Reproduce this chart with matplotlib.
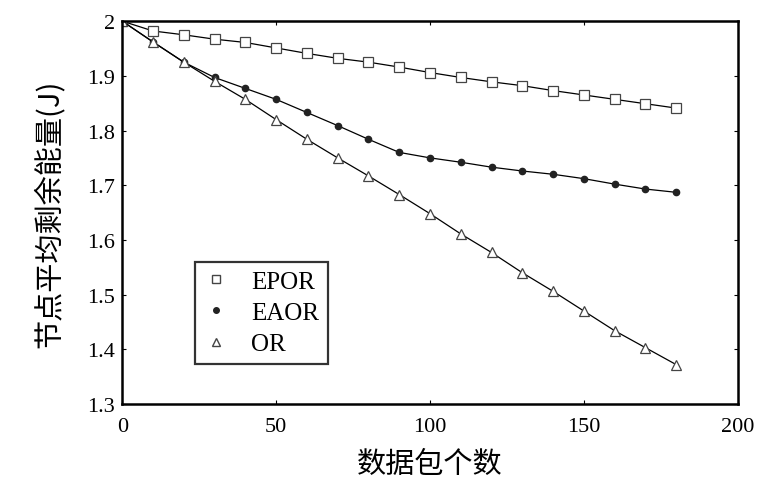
import numpy as np
import matplotlib
matplotlib.use('agg')
import matplotlib.pyplot as plt
from matplotlib.lines import Line2D

plt.rcParams['font.family'] = ['Liberation Serif', 'Noto Sans CJK SC', 'DejaVu Sans']

# ---- data ----
packets = [0, 10, 20, 30, 40, 50, 60, 70, 80, 90, 100, 110, 120, 130, 140, 150, 160, 170, 180]
epor = [2.000, 1.982, 1.975, 1.967, 1.961, 1.951, 1.941, 1.932, 1.925, 1.916, 1.906,
        1.897, 1.889, 1.882, 1.873, 1.865, 1.857, 1.849, 1.841]
eaor = [2.000, 1.962, 1.925, 1.897, 1.877, 1.857, 1.833, 1.809, 1.784, 1.760, 1.750,
        1.742, 1.733, 1.726, 1.720, 1.712, 1.702, 1.693, 1.687]
orr = [2.000, 1.962, 1.925, 1.890, 1.857, 1.820, 1.784, 1.750, 1.717, 1.683, 1.648,
       1.611, 1.577, 1.540, 1.506, 1.470, 1.434, 1.403, 1.372]
labels = ['EPOR', 'EAOR', 'OR']

fig = plt.figure(figsize=(7.59, 4.81), dpi=100)
ax = fig.add_axes([0.161, 0.158, 0.811, 0.796])

ax.plot(packets, epor, color='black', lw=0.9, marker='s', ms=7,
        mfc='white', mec='#444444', mew=0.9)
ax.plot(packets, eaor, color='black', lw=0.9, marker='o', ms=4.5,
        mfc='#222222', mec='#222222')
ax.plot(packets, orr, color='black', lw=0.9, marker='^', ms=7.5,
        mfc='white', mec='#444444', mew=0.9)

ax.set_xlim(0, 200)
ax.set_ylim(1.3, 2.0)
ax.set_xticks([0, 50, 100, 150, 200])
ax.set_yticks([1.3, 1.4, 1.5, 1.6, 1.7, 1.8, 1.9, 2.0])
ax.set_yticklabels(['1.3', '1.4', '1.5', '1.6', '1.7', '1.8', '1.9', '2'])
ax.tick_params(direction='in', length=3, width=0.8, labelsize=16, top=True, right=True)
ax.tick_params(axis='y', pad=5)
ax.tick_params(axis='x', pad=9)
for s in ax.spines.values():
    s.set_linewidth(1.8)

ax.set_xlabel('数据包个数', fontsize=21, family=['Noto Sans CJK SC'], labelpad=10)
ax.set_ylabel('节点平均剩余能量(J)', fontsize=21,
              family=['Noto Sans CJK SC', 'Liberation Serif'], labelpad=16)

handles = [
    Line2D([], [], ls='none', marker='s', ms=6, mfc='white', mec='#444444'),
    Line2D([], [], ls='none', marker='o', ms=4, mfc='#222222', mec='#222222'),
    Line2D([], [], ls='none', marker='^', ms=6, mfc='white', mec='#444444'),
]
leg = ax.legend(handles, labels, loc='lower left', bbox_to_anchor=(0.118, 0.104),
                fontsize=18, frameon=True, fancybox=False, handlelength=1.0,
                handletextpad=0.9, borderpad=0.35, labelspacing=0.35,
                borderaxespad=0.0)
leg.get_frame().set_edgecolor('black')
leg.get_frame().set_linewidth(1.6)

plt.savefig('out.png', dpi=100)
plt.close('all')
